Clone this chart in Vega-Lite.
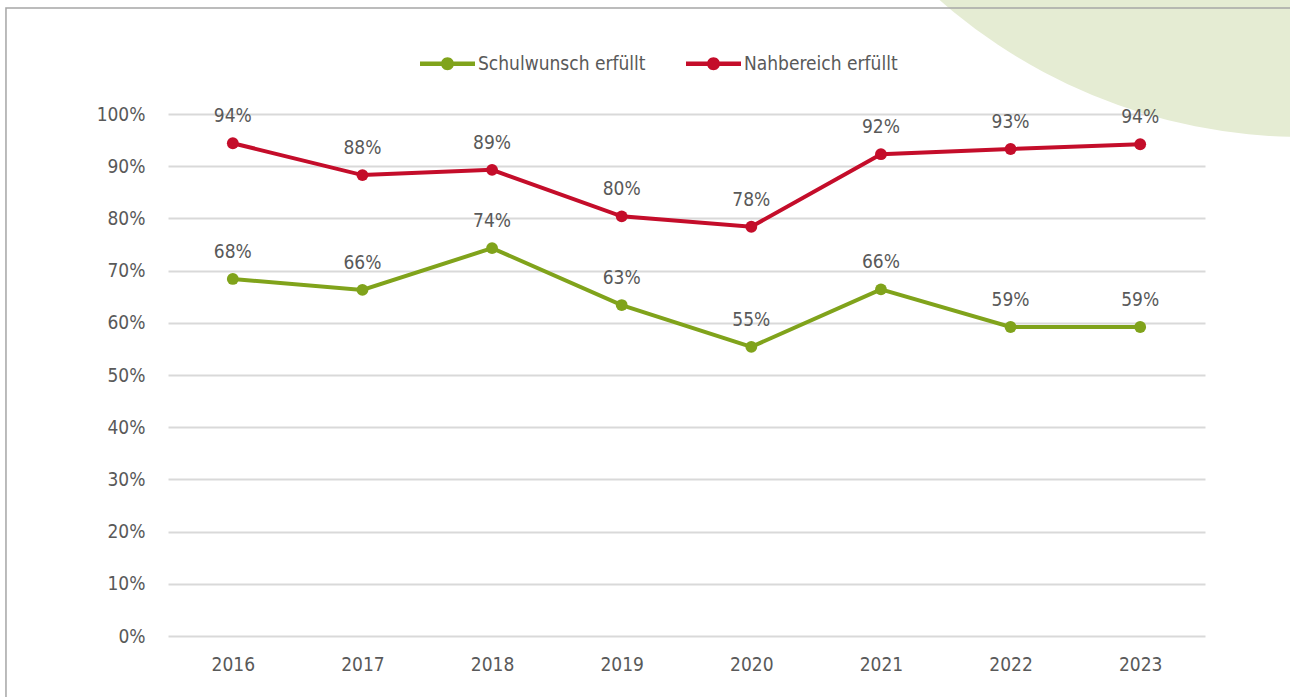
{
  "$schema": "https://vega.github.io/schema/vega-lite/v6.json",
  "width": 1037,
  "height": 522,
  "autosize": {"type": "none"},
  "padding": {"left": 168, "top": 114, "right": 85, "bottom": 61},
  "background": "white",
  "config": {
    "font": "Liberation Sans Narrow, DejaVu Sans Condensed, Roboto, sans-serif",
    "view": {"stroke": null}
  },
  "encoding": {
    "x": {
      "field": "year", "type": "quantitative",
      "scale": {"domain": [2015.5, 2023.5], "zero": false, "nice": false},
      "axis": {
        "title": null, "values": [2016, 2017, 2018, 2019, 2020, 2021, 2022, 2023],
        "format": "d", "grid": false, "ticks": false, "domain": false,
        "labelFontSize": 19, "labelColor": "#595959", "labelPadding": 19
      }
    },
    "y": {
      "field": "value", "type": "quantitative",
      "scale": {"domain": [0, 1], "zero": false, "nice": false},
      "axis": {
        "title": null, "values": [0, 0.1, 0.2, 0.3, 0.4, 0.5, 0.6, 0.7, 0.8, 0.9, 1],
        "format": ".0%", "grid": true, "gridColor": "#D9D9D9", "gridWidth": 2,
        "ticks": false, "domain": false,
        "labelFontSize": 19, "labelColor": "#595959", "labelPadding": 23
      }
    }
  },
  "layer": [
    {
      "data": {"values": [{"year": 2024.25, "value": 2.008}]},
      "mark": {"type": "point", "shape": "circle", "filled": true, "color": "#E5ECD3", "opacity": 1, "size": 1205604, "clip": false}
    },
    {
      "data": {"values": [{"year": 2014.25, "year2": 2026.5, "value": 1.203, "value2": -0.3}]},
      "mark": {"type": "rect", "filled": false, "stroke": "#A6A6A6", "strokeWidth": 1.5, "clip": false},
      "encoding": {
        "x2": {"field": "year2"},
        "y2": {"field": "value2"}
      }
    },
    {
      "data": {"name": "main"},
      "layer": [
        {
          "mark": {"type": "line", "strokeWidth": 4},
          "encoding": {
            "color": {
              "field": "series", "type": "nominal",
              "scale": {"domain": ["Schulwunsch erfüllt", "Nahbereich erfüllt"], "range": ["#80A31B", "#C40D2A"]},
              "legend": {
                "title": null, "orient": "none", "direction": "horizontal",
                "legendX": 252, "legendY": -78,
                "symbolType": "M-1,-0.085H1V0.085H-1Z M-0.236,0A0.236,0.236 0 1,1 0.236,0A0.236,0.236 0 1,1 -0.236,0Z",
                "symbolSize": 3025, "symbolStrokeWidth": 0,
                "labelFontSize": 19, "labelColor": "#595959", "labelOffset": 3,
                "labelLimit": 400,
                "columnPadding": 40,
                "encode": {"symbols": {"update": {"fill": {"scale": "color", "field": "value"}, "stroke": {"value": "transparent"}, "opacity": {"value": 1}}}}
              }
            }
          }
        },
        {
          "mark": {"type": "point", "shape": "circle", "filled": true, "size": 140, "opacity": 1},
          "encoding": {"color": {"field": "series", "type": "nominal"}}
        },
        {
          "mark": {"type": "text", "dy": -27, "fontSize": 19, "color": "#595959"},
          "encoding": {"text": {"field": "value", "type": "quantitative", "format": ".0%"}}
        }
      ]
    }
  ],
  "datasets": {
    "main": [
      {"year": 2016, "series": "Schulwunsch erfüllt", "value": 0.684},
      {"year": 2017, "series": "Schulwunsch erfüllt", "value": 0.663},
      {"year": 2018, "series": "Schulwunsch erfüllt", "value": 0.743},
      {"year": 2019, "series": "Schulwunsch erfüllt", "value": 0.634},
      {"year": 2020, "series": "Schulwunsch erfüllt", "value": 0.554},
      {"year": 2021, "series": "Schulwunsch erfüllt", "value": 0.664},
      {"year": 2022, "series": "Schulwunsch erfüllt", "value": 0.592},
      {"year": 2023, "series": "Schulwunsch erfüllt", "value": 0.592},
      {"year": 2016, "series": "Nahbereich erfüllt", "value": 0.944},
      {"year": 2017, "series": "Nahbereich erfüllt", "value": 0.883},
      {"year": 2018, "series": "Nahbereich erfüllt", "value": 0.893},
      {"year": 2019, "series": "Nahbereich erfüllt", "value": 0.804},
      {"year": 2020, "series": "Nahbereich erfüllt", "value": 0.784},
      {"year": 2021, "series": "Nahbereich erfüllt", "value": 0.923},
      {"year": 2022, "series": "Nahbereich erfüllt", "value": 0.933},
      {"year": 2023, "series": "Nahbereich erfüllt", "value": 0.942}
    ]
  }
}
